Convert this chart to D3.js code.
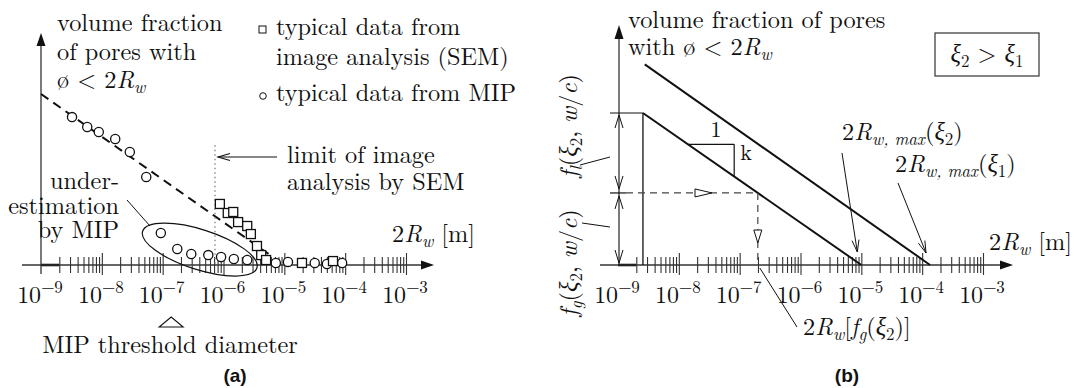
<!DOCTYPE html>
<html><head><meta charset="utf-8">
<script src="https://cdn.jsdelivr.net/npm/d3@7"></script>
<style>
body{margin:0;background:#fff;}
</style></head><body>
<svg id="chart" width="1081" height="388"></svg>
<script>
// pore diameters are given as log10(2Rw [m]), fractions in arbitrary units
var decades = [-9, -8, -7, -6, -5, -4, -3];
var tickExp = ["−9", "−8", "−7", "−6", "−5", "−4", "−3"];
var minorMult = [2, 3, 4, 5, 6, 7, 8, 9];

// (a) typical data from MIP
var mipLogD = [-8.49, -8.24, -8.05, -7.78, -7.54, -7.27, -7.03, -6.76, -6.53, -6.25, -6.04, -5.83, -5.61, -5.14, -4.94, -4.50, -4.30, -4.05];
var mipFrac = [0.865, 0.807, 0.778, 0.737, 0.661, 0.515, 0.187, 0.094, 0.064, 0.058, 0.047, 0.035, 0.029, 0.012, 0.018, 0.012, 0.006, 0.012];
// (a) typical data from image analysis (SEM)
var semLogD = [-6.06, -5.93, -5.84, -5.76, -5.61, -5.55, -5.45, -5.38, -5.30, -4.71, -4.20];
var semFrac = [0.357, 0.304, 0.310, 0.251, 0.228, 0.181, 0.111, 0.058, 0.029, 0.012, 0.023];
// (a) dashed trend
var trendLogD = [-9, -5.26];
var trendFrac = [1, 0.065];
var semLimitLogD = -6.14, semLimitFrac = 0.70;
var mipThresholdLogD = -6.86;
var ellipseLogD = -6.39, ellipseFrac = 0.09;

// (b) straight lines for xi2 (lower) and xi1 (upper)
var xi2LogD = [-8.59, -5];
var xi2Frac = [1, 0];
var xi1LogD = [-8.56, -3.87];
var xi1Frac = [1.32, 0];
var fgFrac = 0.474;
var slopeLogD = [-7.85, -7.09];

var svg = d3.select("#chart");
var ink = "#111";
var serif = "'Latin Modern Roman', 'Liberation Serif', serif";
var FS = 24.3, SUB = 17;

function rich(g, x, y, segs, opt) {
  opt = opt || {};
  var t = g.append("text").attr("x", x).attr("y", y)
    .style("font-family", serif).style("fill", ink)
    .attr("font-size", opt.size || FS)
    .attr("text-anchor", opt.anchor || "start");
  var shift = 0;
  segs.forEach(function(s) {
    if (typeof s === "string") s = {t: s};
    var target = s.sub || 0;
    var ts = t.append("tspan").text(s.t);
    if (target !== shift) { ts.attr("dy", target - shift); shift = target; }
    if (s.i) ts.attr("font-style", "italic");
    if (s.fs) ts.attr("font-size", s.fs);
  });
  return t;
}

function filledHead(g, tx, ty, dx, dy, len, half) {
  var bx = tx - dx * len, by = ty - dy * len;
  g.append("path")
    .attr("d", "M" + tx + "," + ty + "L" + (bx - dy * half) + "," + (by + dx * half) +
      "L" + (bx + dy * half) + "," + (by - dx * half) + "Z")
    .attr("fill", ink);
}
function openV(g, tx, ty, dx, dy, len, half, w) {
  var bx = tx - dx * len, by = ty - dy * len;
  g.append("path")
    .attr("d", "M" + (bx - dy * half) + "," + (by + dx * half) + "L" + tx + "," + ty +
      "L" + (bx + dy * half) + "," + (by - dx * half))
    .attr("fill", "none").attr("stroke", ink).attr("stroke-width", w || 1);
}
function openTri(g, tx, ty, dx, dy, len, half) {
  var bx = tx - dx * len, by = ty - dy * len;
  g.append("path")
    .attr("d", "M" + tx + "," + ty + "L" + (bx - dy * half) + "," + (by + dx * half) +
      "L" + (bx + dy * half) + "," + (by - dx * half) + "Z")
    .attr("fill", "#fff").attr("stroke", ink).attr("stroke-width", 1);
}
function seg(g, x1, y1, x2, y2, w, dash, col) {
  var l = g.append("line").attr("x1", x1).attr("y1", y1).attr("x2", x2).attr("y2", y2)
    .attr("stroke", col || ink).attr("stroke-width", w || 1.2);
  if (dash) l.attr("stroke-dasharray", dash);
  return l;
}

function logAxis(g, x, y0, xStart, xEnd) {
  var minor = [];
  decades.slice(0, -1).forEach(function(d) {
    minorMult.forEach(function(m) { minor.push(m * Math.pow(10, d)); });
  });
  seg(g, xStart, y0, xEnd - 10, y0, 1.3, null, "#333");
  filledHead(g, xEnd, y0, 1, 0, 13, 4.5);
  seg(g, x(1e-9), y0, x(2e-9), y0, 2.6, null, "#222");
  var mi = g.append("g").attr("transform", "translate(0," + y0 + ")")
    .call(d3.axisBottom(x).tickValues(minor).tickSizeInner(8).tickSizeOuter(0).tickFormat(""));
  var ma = g.append("g").attr("transform", "translate(0," + y0 + ")")
    .call(d3.axisBottom(x).tickValues(decades.slice(1).map(function(d) { return Math.pow(10, d); }))
      .tickSizeInner(10).tickSizeOuter(0).tickFormat(""));
  [mi, ma].forEach(function(a) { a.select(".domain").remove(); a.selectAll(".tick line").attr("stroke", "#333").attr("stroke-width", 1.1); });
  mi.selectAll(".tick line").attr("y1", -8);
  ma.selectAll(".tick line").attr("y1", -12);
  decades.forEach(function(d, i) {
    rich(g, x(Math.pow(10, d)) - 1, y0 + 38, ["10", {t: tickExp[i], sub: -10, fs: 17}], {size: 24, anchor: "middle"});
  });
}

// ================= panel (a) =================
var gA = svg.append("g");
var xA = d3.scaleLog().domain([1e-9, 1e-3]).range([41, 406]);
var yA = d3.scaleLinear().domain([0, 1]).range([265, 94]);

seg(gA, 41, 274, 41, 45, 1.3, null, "#333");
filledHead(gA, 41, 33, 0, -1, 13, 4.5);
logAxis(gA, xA, 265, 22, 434);

gA.append("line")
  .attr("x1", xA(Math.pow(10, trendLogD[0]))).attr("y1", yA(trendFrac[0]))
  .attr("x2", xA(Math.pow(10, trendLogD[1]))).attr("y2", yA(trendFrac[1]))
  .attr("stroke", ink).attr("stroke-width", 2).attr("stroke-dasharray", "9,6");

var limX = xA(Math.pow(10, semLimitLogD));
seg(gA, limX, yA(semLimitFrac), limX, yA(0), 1.2, "1.5,3", "#777");
seg(gA, 277, 157, limX + 3, 157, 1.1);
openV(gA, limX + 3, 157, -1, 0, 12, 3.5, 1.1);

// ellipse
var ec = [xA(Math.pow(10, ellipseLogD)), yA(ellipseFrac)];
gA.append("ellipse").attr("cx", 0).attr("cy", 0).attr("rx", 60).attr("ry", 20)
  .attr("transform", "translate(" + ec[0] + "," + ec[1] + ") rotate(17.8)")
  .attr("fill", "none").attr("stroke", ink).attr("stroke-width", 1.2);
seg(gA, 127, 200, 150, 226, 1);

gA.selectAll(".mip").data(mipLogD).enter().append("circle").attr("class", "mip")
  .attr("cx", function(d) { return xA(Math.pow(10, d)); })
  .attr("cy", function(d, i) { return yA(mipFrac[i]); })
  .attr("r", 4.6).attr("fill", "#fff").attr("stroke", ink).attr("stroke-width", 1.3);
gA.selectAll(".sem").data(semLogD).enter().append("rect").attr("class", "sem")
  .attr("x", function(d) { return xA(Math.pow(10, d)) - 4.5; })
  .attr("y", function(d, i) { return yA(semFrac[i]) - 4.5; })
  .attr("width", 9).attr("height", 9).attr("fill", "#fff").attr("stroke", ink).attr("stroke-width", 1.3);

// legend
gA.append("rect").attr("x", 259).attr("y", 26).attr("width", 7).attr("height", 7).attr("fill", "none").attr("stroke", ink);
gA.append("circle").attr("cx", 263).attr("cy", 96).attr("r", 3.3).attr("fill", "none").attr("stroke", ink);
rich(gA, 276, 35, ["typical data from"]);
rich(gA, 276, 65, ["image analysis (SEM)"]);
rich(gA, 276, 101, ["typical data from MIP"]);

rich(gA, 57, 31, ["volume fraction"]);
rich(gA, 57, 60, ["of pores with"]);
rich(gA, 57, 88, ["ø  < 2", {t: "R", i: 1}, {t: "w", i: 1, sub: 5, fs: SUB}]);

rich(gA, 287, 163, ["limit of image"]);
rich(gA, 287, 190, ["analysis by SEM"]);

rich(gA, 119, 189, ["under-"], {anchor: "end"});
rich(gA, 119, 214, ["estimation"], {anchor: "end"});
rich(gA, 119, 238, ["by MIP"], {anchor: "end"});

rich(gA, 392, 242, ["2", {t: "R", i: 1}, {t: "w", i: 1, sub: 5, fs: SUB}, {t: "  [m]", sub: 0}]);

var thX = xA(Math.pow(10, mipThresholdLogD));
gA.append("path").attr("d", "M" + (thX - 12) + ",327L" + (thX + 12) + ",327L" + thX + ",317Z")
  .attr("fill", "none").attr("stroke", ink).attr("stroke-width", 1.1);
rich(gA, 170, 353, ["MIP threshold diameter"], {anchor: "middle"});

gA.append("text").attr("x", 235).attr("y", 382).attr("text-anchor", "middle").style("fill", ink)
  .style("font-family", "'Liberation Sans', Arial, sans-serif").attr("font-weight", "bold").attr("font-size", 19).text("(a)");

// ================= panel (b) =================
var gB = svg.append("g");
var xB = d3.scaleLog().domain([1e-9, 1e-3]).range([618, 983]);
var yB = d3.scaleLinear().domain([0, 1]).range([265, 113]);
var axX = 619;

seg(gB, axX, 265, axX, 37, 1.3, null, "#333");
filledHead(gB, axX, 25, 0, -1, 14, 4.5);
logAxis(gB, xB, 265, 600, 1013);

var p2 = xi2LogD.map(function(d, i) { return [xB(Math.pow(10, d)), yB(xi2Frac[i])]; });
var p1 = xi1LogD.map(function(d, i) { return [xB(Math.pow(10, d)), yB(xi1Frac[i])]; });
var lineGen = d3.line();
gB.append("path").attr("d", lineGen(p2)).attr("stroke", ink).attr("stroke-width", 2).attr("fill", "none");
gB.append("path").attr("d", lineGen(p1)).attr("stroke", ink).attr("stroke-width", 2).attr("fill", "none");
seg(gB, p2[0][0], p2[0][1], p2[0][0], yB(0), 1.3);
seg(gB, 610, p2[0][1], p2[0][0], p2[0][1], 1.2);

// level f_g and its intersection with the xi2 line
var fgLog = xi2LogD[0] + (xi2Frac[0] - fgFrac) / (xi2Frac[0] - xi2Frac[1]) * (xi2LogD[1] - xi2LogD[0]);
var ix = xB(Math.pow(10, fgLog)), iy = yB(fgFrac);
seg(gB, 610, iy, 626, iy, 1.2);
seg(gB, 626, iy, ix, iy, 1.2, "7,5", "#444");
seg(gB, ix, iy, ix, yB(0), 1.2, "7,5", "#444");
openTri(gB, 712, iy, 1, 0, 17, 4);
openTri(gB, ix, 243, 0, 1, 13, 4);

// dimension arrows
openV(gB, axX, p2[0][1] + 2, 0, -1, 13, 4);
openV(gB, axX, iy - 4, 0, 1, 13, 4);
openV(gB, axX, iy + 3, 0, -1, 13, 4);
openV(gB, axX, yB(0) - 2, 0, 1, 13, 4);
seg(gB, 580, 165, 610, 157, 1);
seg(gB, 582, 223, 610, 227, 1);

// slope triangle
function yOn2(ld) { return yB(xi2Frac[0] + (ld - xi2LogD[0]) / (xi2LogD[1] - xi2LogD[0]) * (xi2Frac[1] - xi2Frac[0])); }
var sx0 = xB(Math.pow(10, slopeLogD[0])), sx1 = xB(Math.pow(10, slopeLogD[1]));
var sy0 = yOn2(slopeLogD[0]), sy1 = yOn2(slopeLogD[1]);
seg(gB, sx0, sy0, sx1, sy0, 1.2);
seg(gB, sx1, sy0, sx1, sy1, 1.2);
rich(gB, (sx0 + sx1) / 2 + 5, sy0 - 7, ["1"], {size: 22, anchor: "middle"});
rich(gB, sx1 + 6, sy0 + 16, ["k"], {size: 22});

// texts
rich(gB, 628, 28, ["volume fraction of pores"]);
rich(gB, 628, 55, ["with ø  < 2", {t: "R", i: 1}, {t: "w", i: 1, sub: 5, fs: SUB}]);

gB.append("rect").attr("x", 935).attr("y", 33).attr("width", 104).attr("height", 43)
  .attr("fill", "none").attr("stroke", "#333").attr("stroke-width", 1.2);
rich(gB, 987, 62, [{t: "ξ", i: 1}, {t: "2", sub: 5, fs: SUB}, {t: " > ", sub: 0}, {t: "ξ", i: 1}, {t: "1", sub: 5, fs: SUB}], {anchor: "middle"});

rich(gB, 842, 140, ["2", {t: "R", i: 1}, {t: "w, max", i: 1, sub: 5, fs: SUB}, {t: "(", sub: 0}, {t: "ξ", i: 1}, {t: "2", sub: 5, fs: SUB}, {t: ")", sub: 0}]);
rich(gB, 895, 172, ["2", {t: "R", i: 1}, {t: "w, max", i: 1, sub: 5, fs: SUB}, {t: "(", sub: 0}, {t: "ξ", i: 1}, {t: "1", sub: 5, fs: SUB}, {t: ")", sub: 0}]);
var t2 = [xB(Math.pow(10, xi2LogD[1])) - 4, 252], t1 = [p1[1][0] - 4, 253];
seg(gB, 842, 153, t2[0], t2[1], 1);
openV(gB, t2[0], t2[1], (t2[0] - 842) / Math.hypot(t2[0] - 842, t2[1] - 153), (t2[1] - 153) / Math.hypot(t2[0] - 842, t2[1] - 153), 12, 3.5);
seg(gB, 898, 183, t1[0], t1[1], 1);
openV(gB, t1[0], t1[1], (t1[0] - 898) / Math.hypot(t1[0] - 898, t1[1] - 183), (t1[1] - 183) / Math.hypot(t1[0] - 898, t1[1] - 183), 12, 3.5);

rich(gB, 989, 250, ["2", {t: "R", i: 1}, {t: "w", i: 1, sub: 5, fs: SUB}, {t: "  [m]", sub: 0}]);

seg(gB, ix + 2, 268, 797, 327, 1);
rich(gB, 803, 335, ["2", {t: "R", i: 1}, {t: "w", i: 1, sub: 5, fs: SUB}, {t: "[", sub: 0}, {t: "f", i: 1}, {t: "g", i: 1, sub: 5, fs: SUB}, {t: "(", sub: 0}, {t: "ξ", i: 1}, {t: "2", sub: 5, fs: SUB}, {t: ")]", sub: 0}]);

var rl = gB.append("g").attr("transform", "translate(577,126) rotate(-90)");
rich(rl, 0, 0, [{t: "f", i: 1}, {t: "l", i: 1, sub: 5, fs: SUB}, {t: "(", sub: 0}, {t: "ξ", i: 1}, {t: "2", sub: 5, fs: SUB}, {t: ",  ", sub: 0}, {t: "w", i: 1}, "/", {t: "c", i: 1}, ")"], {anchor: "middle"});
var rg = gB.append("g").attr("transform", "translate(577,263) rotate(-90)");
rich(rg, 0, 0, [{t: "f", i: 1}, {t: "g", i: 1, sub: 5, fs: SUB}, {t: "(", sub: 0}, {t: "ξ", i: 1}, {t: "2", sub: 5, fs: SUB}, {t: ",  ", sub: 0}, {t: "w", i: 1}, "/", {t: "c", i: 1}, ")"], {anchor: "middle"});

gB.append("text").attr("x", 847).attr("y", 382).attr("text-anchor", "middle").style("fill", ink)
  .style("font-family", "'Liberation Sans', Arial, sans-serif").attr("font-weight", "bold").attr("font-size", 19).text("(b)");
</script>
</body></html>
